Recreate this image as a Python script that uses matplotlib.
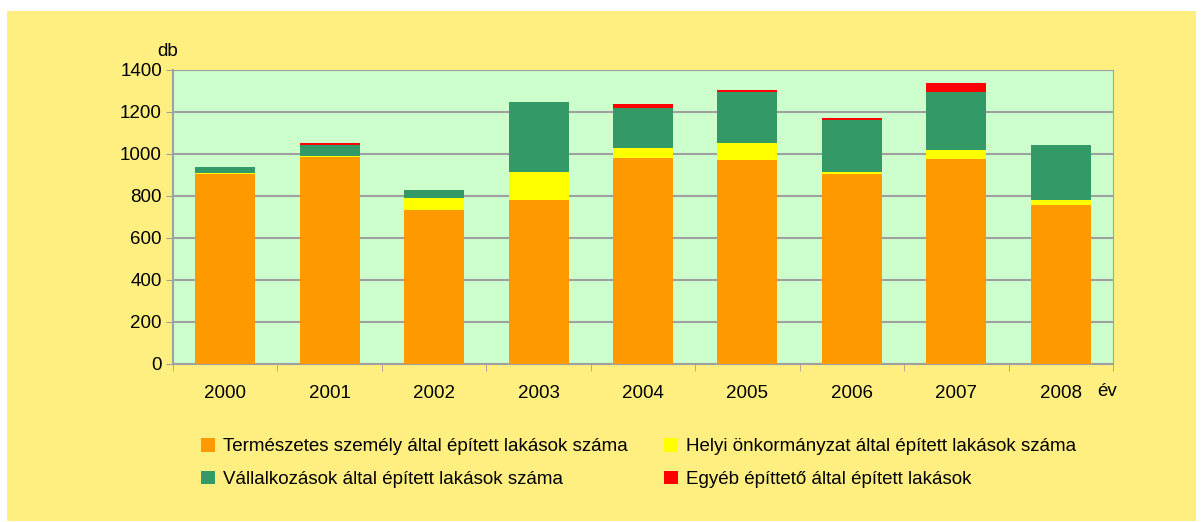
import matplotlib
matplotlib.use('Agg')
import matplotlib.pyplot as plt
import matplotlib.patches as mpatches
import numpy as np

plt.rcParams['font.family'] = ['Liberation Sans', 'DejaVu Sans']

years = ['2000', '2001', '2002', '2003', '2004', '2005', '2006', '2007', '2008']
termeszetes = [903, 988, 731, 782, 979, 970, 903, 978, 759]
helyi = [7, 2, 61, 132, 49, 82, 11, 41, 22]
vallalkozas = [28, 53, 36, 333, 191, 243, 248, 276, 262]
egyeb = [0, 9, 0, 0, 19, 9, 9, 43, 0]

labels = ['Természetes személy által épített lakások száma',
          'Helyi önkormányzat által épített lakások száma',
          'Vállalkozások által épített lakások száma',
          'Egyéb építtető által épített lakások']
colors = ['#FF9900', '#FFFF00', '#339966', '#FF0000']

W, H = 1203, 522
fs = 13.5
fig = plt.figure(figsize=(W / 100, H / 100), dpi=100)
fig.patch.set_facecolor('white')
bg = mpatches.Rectangle((7 / W, 1 - 521 / H), 1189 / W, 510 / H,
                        transform=fig.transFigure, facecolor='#FFEF80',
                        edgecolor='none', zorder=-10)
fig.patches.append(bg)

ax = fig.add_axes([173 / W, 1 - 364 / H, 940 / W, 294 / H])
ax.set_facecolor('#CCFFCC')

x = np.arange(len(years))
bw = 0.575
bottom = np.zeros(len(years))
series = [termeszetes, helyi, vallalkozas, egyeb]
handles = []
for vals, c, lab in zip(series, colors, labels):
    b = ax.bar(x, vals, bw, bottom=bottom, color=c, label=lab, zorder=3)
    bottom = bottom + np.array(vals)
    handles.append(b)

ax.set_xlim(-0.5, len(years) - 0.5)
ax.set_ylim(0, 1400)
ax.set_yticks(range(0, 1401, 200))
ax.yaxis.grid(True, color='#A0A0A0', linewidth=1.5, zorder=0)
ax.set_xticks(x)
ax.set_xticklabels(years, fontsize=fs)
ax.set_xticks(np.arange(-0.5, len(years)), minor=True)
ax.tick_params(axis='x', which='major', length=0, pad=15)
ax.tick_params(axis='x', which='minor', length=5, color='#A0A0A0')
ax.tick_params(axis='y', length=5, color='#A0A0A0', labelsize=fs, pad=3)
for side in ['top', 'right']:
    ax.spines[side].set_color('#A0A0A0')
for side in ['left', 'bottom']:
    ax.spines[side].set_color('#A0A0A0')
    ax.spines[side].set_linewidth(1.5)

fig.text(157 / W, 1 - 52 / H, 'db', fontsize=fs, va='center', ha='left')
fig.text(1097 / W, 1 - 392 / H, 'év', fontsize=fs, va='center', ha='left')

order = [0, 2, 1, 3]
fig.legend([handles[i] for i in order], [labels[i] for i in order],
           ncol=2, loc='upper left', bbox_to_anchor=(184 / W, 1 - 421 / H),
           frameon=False, fontsize=fs, handlelength=0.75, handleheight=0.75,
           handletextpad=0.45, columnspacing=1.9, labelspacing=0.82)

fig.savefig('out.png', dpi=100)
